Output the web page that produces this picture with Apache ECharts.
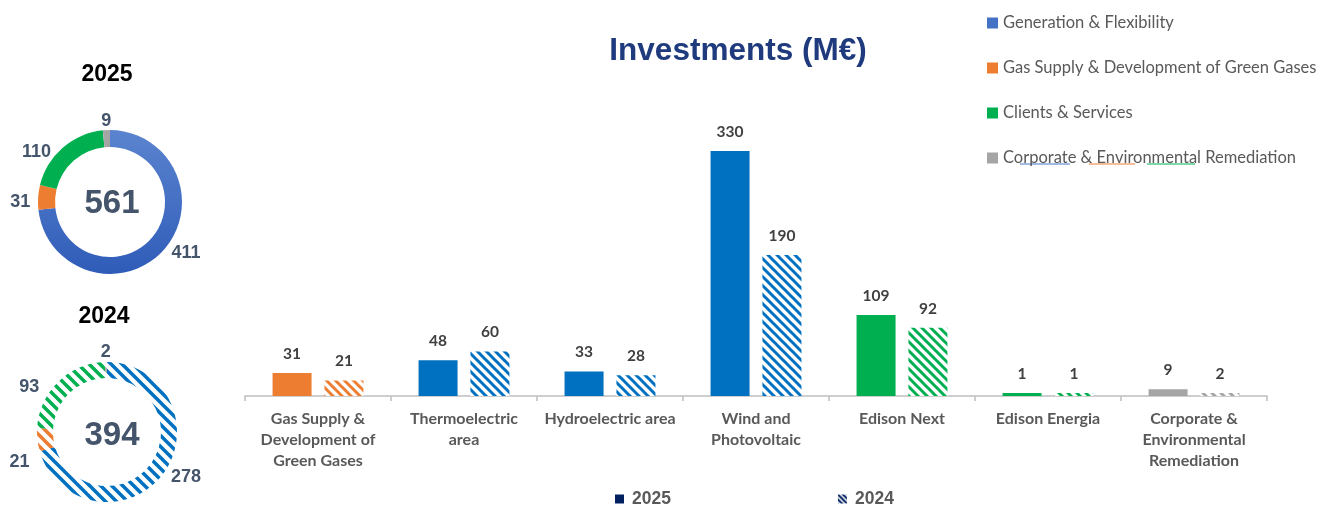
<!DOCTYPE html>
<html>
<head>
<meta charset="utf-8">
<script src="https://cdn.jsdelivr.net/npm/echarts@6/dist/echarts.min.js"></script>
<style>
  html, body { margin: 0; padding: 0; background: #fff; }
  #chart { width: 1322px; height: 506px; }
</style>
</head>
<body>
<div id="chart"></div>
<script>
// Business-unit investments, M€
const categories = [
  'Gas Supply &\nDevelopment of\nGreen Gases',
  'Thermoelectric\narea',
  'Hydroelectric area',
  'Wind and\nPhotovoltaic',
  'Edison Next',
  'Edison Energia',
  'Corporate &\nEnvironmental\nRemediation'
];
const values2025 = [31, 48, 33, 330, 109, 1, 9];
const values2024 = [21, 60, 28, 190, 92, 1, 2];
const barColors = ['#ED7D31', '#0070C0', '#0070C0', '#0070C0', '#00B050', '#00B050', '#A5A5A5'];

// Segment split for the donuts
const segmentNames = [
  'Generation & Flexibility',
  'Gas Supply & Development of Green Gases',
  'Clients & Services',
  'Corporate & Environmental Remediation'
];
const segments2025 = [411, 31, 110, 9];
const segments2024 = [278, 21, 93, 2];
const segmentColors = ['#0070C0', '#ED7D31', '#00B050', '#A5A5A5'];
const legendColors = ['#4472C4', '#ED7D31', '#00B050', '#A5A5A5'];

// Small nudges for the donut value labels
const labelNudge2025 = [[0, 0], [1, 5], [-4, 7], [10, -5]];
const labelNudge2024 = [[0, 0], [1, 22], [-11, 8], [10, -6]];

const sum = a => a.reduce((s, v) => s + v, 0);

// Diagonal white/colour stripes used for the 2024 figures
function hatch(color, size, width) {
  const c = document.createElement('canvas');
  c.width = size; c.height = size;
  const g = c.getContext('2d');
  g.fillStyle = '#fff';
  g.fillRect(0, 0, size, size);
  g.strokeStyle = color;
  g.lineWidth = width;
  g.lineCap = 'square';
  for (const k of [-size, 0, size]) {
    g.beginPath();
    g.moveTo(k, 0);
    g.lineTo(k + size, size);
    g.stroke();
  }
  return { image: c, repeat: 'repeat' };
}

const blueGradient = {
  type: 'linear', x: 0, y: 0, x2: 0, y2: 1,
  colorStops: [{ offset: 0, color: '#5B84CF' }, { offset: 1, color: '#2F5CB8' }]
};

const labelGrey = '#404040';
const donutText = '#44546A';
const arial = 'Arial, "Liberation Sans", sans-serif';
const catFont = 'Lato, "Open Sans", sans-serif';

const chart = echarts.init(document.getElementById('chart'), null, { renderer: 'canvas' });

const pieLabel = {
  show: true,
  position: 'outside',
  formatter: '{c}',
  width: 40,
  overflow: 'none',
  color: donutText,
  fontFamily: arial,
  fontWeight: 'bold',
  fontSize: 18
};

chart.setOption({
  animation: false,
  backgroundColor: '#fff',
  title: [
    {
      text: 'Investments (M€)',
      left: 733, top: 30, textAlign: 'center',
      textStyle: { fontFamily: arial, fontWeight: 'bold', fontSize: 31.5, color: '#1F3B7D' }
    },
    {
      text: '2025', left: 102, top: 58, textAlign: 'center',
      textStyle: { fontFamily: arial, fontWeight: 'bold', fontSize: 23, color: '#000' }
    },
    {
      text: '2024', left: 99, top: 300, textAlign: 'center',
      textStyle: { fontFamily: arial, fontWeight: 'bold', fontSize: 23, color: '#000' }
    },
    {
      text: String(sum(segments2025)), left: 107, top: 182, textAlign: 'center',
      textStyle: { fontFamily: arial, fontWeight: 'bold', fontSize: 33, color: donutText }
    },
    {
      text: String(sum(segments2024)), left: 107, top: 414, textAlign: 'center',
      textStyle: { fontFamily: arial, fontWeight: 'bold', fontSize: 33, color: donutText }
    }
  ],
  legend: [
    {
      seriesIndex: [2, 3],
      orient: 'vertical',
      left: 982, top: 9,
      itemWidth: 11, itemHeight: 11,
      itemGap: 27,
      icon: 'rect',
      data: segmentNames.map((n, i) => ({ name: n, itemStyle: { color: legendColors[i] } })),
      textStyle: { fontFamily: catFont, fontSize: 16.5, color: '#595959', lineHeight: 18, padding: [0, 0, 0, 0] }
    },
    {
      left: 610, top: 485,
      itemWidth: 9, itemHeight: 9,
      itemGap: 167,
      icon: 'rect',
      data: [
        { name: '2025', itemStyle: { color: '#002060' } },
        { name: '2024', itemStyle: { color: hatch('#002060', 5, 2) } }
      ],
      textStyle: { fontFamily: arial, fontWeight: 'bold', fontSize: 17.5, color: '#595959', padding: [0, 0, 0, 3] }
    }
  ],
  grid: { left: 245, right: 55, top: 99, bottom: 110, containLabel: false },
  xAxis: {
    type: 'category',
    data: categories,
    axisLine: { lineStyle: { color: '#BFBFBF', width: 1.5 } },
    axisTick: { show: true, length: 5, lineStyle: { color: '#BFBFBF', width: 1.5 } },
    axisLabel: {
      interval: 0, margin: 12,
      fontFamily: catFont, fontWeight: 'bold', fontSize: 16, color: '#595959', lineHeight: 21
    }
  },
  yAxis: { type: 'value', min: 0, max: 400, show: false },
  series: [
    {
      name: '2025', type: 'bar',
      barWidth: 39, barGap: '33%', barMinHeight: 3,
      data: values2025.map((v, i) => ({ value: v, itemStyle: { color: barColors[i] } })),
      label: {
        show: true, position: 'top', distance: 11,
        fontFamily: catFont, fontWeight: 'bold', fontSize: 15.5, color: labelGrey
      }
    },
    {
      name: '2024', type: 'bar',
      barWidth: 39, barMinHeight: 3,
      data: values2024.map((v, i) => ({ value: v, itemStyle: { color: hatch(barColors[i], 9, 3) } })),
      label: {
        show: true, position: 'top', distance: 11,
        fontFamily: catFont, fontWeight: 'bold', fontSize: 15.5, color: labelGrey
      }
    },
    {
      name: 'Segments 2025', type: 'pie',
      center: [110, 202], radius: [55, 72],
      startAngle: 90, clockwise: true,
      label: pieLabel,
      labelLine: { show: false, length: 4, length2: 0 },
      emphasis: { disabled: true },
      data: segmentNames.map((n, i) => ({
        name: n, value: segments2025[i],
        label: { offset: labelNudge2025[i] },
        itemStyle: { color: i === 0 ? blueGradient : segmentColors[i] }
      }))
    },
    {
      name: 'Segments 2024', type: 'pie',
      center: [107, 432], radius: [54, 70],
      startAngle: 90, clockwise: true,
      label: pieLabel,
      labelLine: { show: false, length: 4, length2: 0 },
      emphasis: { disabled: true },
      data: segmentNames.map((n, i) => ({
        name: n, value: segments2024[i],
        label: { offset: labelNudge2024[i] },
        itemStyle: { color: hatch(segmentColors[i], 11, 3.5) }
      }))
    }
  ],
  graphic: [
    { type: 'line', shape: { x1: 1020, y1: 164, x2: 1070, y2: 164 }, style: { stroke: '#4472C4', lineWidth: 1 } },
    { type: 'line', shape: { x1: 1089, y1: 164, x2: 1135, y2: 164 }, style: { stroke: '#ED7D31', lineWidth: 1 } },
    { type: 'line', shape: { x1: 1147, y1: 164, x2: 1195, y2: 164 }, style: { stroke: '#00B050', lineWidth: 1 } }
  ]
});
</script>
</body>
</html>
